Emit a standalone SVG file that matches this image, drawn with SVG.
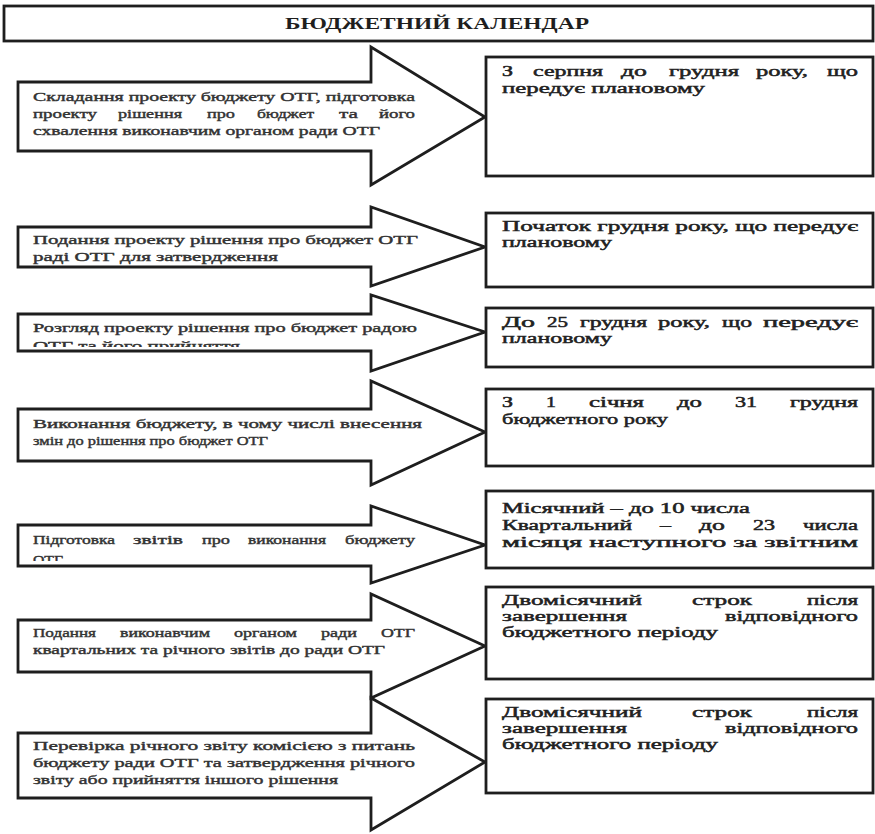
<svg xmlns="http://www.w3.org/2000/svg" width="875" height="834" viewBox="0 0 875 834">
<style>
.shape{fill:#fff;stroke:#1e1e1e;stroke-width:2.8;stroke-linejoin:miter}
.at{font-family:"Liberation Serif",serif;font-size:12.5px;font-weight:normal;fill:#333;stroke:#333;stroke-width:0.4}
.bt{font-family:"Liberation Serif",serif;font-size:15px;font-weight:normal;fill:#222;stroke:#222;stroke-width:0.5}
.tt{font-family:"Liberation Serif",serif;font-size:16px;font-weight:bold;fill:#1e1e1e}
</style>
<defs>
<clipPath id="clip3"><rect x="0" y="0" width="875" height="347"/></clipPath>
<clipPath id="clip5"><rect x="0" y="0" width="875" height="561"/></clipPath>
</defs>
<rect width="875" height="834" fill="#fff"/>

<g id="title">
<rect class="shape" x="4" y="6" width="869" height="35"/>
<text class="tt" x="285" y="29" textLength="304" lengthAdjust="spacingAndGlyphs">БЮДЖЕТНИЙ КАЛЕНДАР</text>
</g>

<g id="step1">
<polygon class="shape" points="18,82 371,82 371,47 485,117 371,185 371,151 18,151"/>
<text class="at" x="33" y="101" textLength="382" lengthAdjust="spacingAndGlyphs">Складання проекту бюджету ОТГ, підготовка</text>
<text class="at" x="33" y="118" textLength="64" lengthAdjust="spacingAndGlyphs">проекту</text>
<text class="at" x="118" y="118" textLength="64" lengthAdjust="spacingAndGlyphs">рішення</text>
<text class="at" x="207" y="118" textLength="28" lengthAdjust="spacingAndGlyphs">про</text>
<text class="at" x="257" y="118" textLength="57" lengthAdjust="spacingAndGlyphs">бюджет</text>
<text class="at" x="339" y="118" textLength="19" lengthAdjust="spacingAndGlyphs">та</text>
<text class="at" x="379" y="118" textLength="36" lengthAdjust="spacingAndGlyphs">його</text>
<text class="at" x="33" y="135" textLength="347" lengthAdjust="spacingAndGlyphs">схвалення виконавчим органом ради ОТГ</text>
</g>

<g id="period1">
<rect class="shape" x="486" y="57" width="387" height="119"/>
<text class="bt" x="502" y="76" textLength="11" lengthAdjust="spacingAndGlyphs">З</text>
<text class="bt" x="533" y="76" textLength="70" lengthAdjust="spacingAndGlyphs">серпня</text>
<text class="bt" x="621" y="76" textLength="26" lengthAdjust="spacingAndGlyphs">до</text>
<text class="bt" x="669" y="76" textLength="70" lengthAdjust="spacingAndGlyphs">грудня</text>
<text class="bt" x="756" y="76" textLength="52" lengthAdjust="spacingAndGlyphs">року,</text>
<text class="bt" x="827" y="76" textLength="31" lengthAdjust="spacingAndGlyphs">що</text>
<text class="bt" x="502" y="93" textLength="203" lengthAdjust="spacingAndGlyphs">передує плановому</text>
</g>

<g id="step2">
<polygon class="shape" points="18,227 371,227 371,207 485,247 371,286 371,267 18,267"/>
<text class="at" x="33" y="244" textLength="385" lengthAdjust="spacingAndGlyphs">Подання проекту рішення про бюджет ОТГ</text>
<text class="at" x="33" y="261" textLength="245" lengthAdjust="spacingAndGlyphs">раді ОТГ для затвердження</text>
</g>

<g id="period2">
<rect class="shape" x="486" y="213" width="387" height="74"/>
<text class="bt" x="502" y="231" textLength="356" lengthAdjust="spacingAndGlyphs">Початок грудня року, що передує</text>
<text class="bt" x="502" y="247" textLength="110" lengthAdjust="spacingAndGlyphs">плановому</text>
</g>

<g id="step3">
<polygon class="shape" points="18,314 371,314 371,295 485,332 371,371 371,351 18,351"/>
<text class="at" x="33" y="332" textLength="384" lengthAdjust="spacingAndGlyphs">Розгляд проекту рішення про бюджет радою</text>
<text class="at" x="33" y="349.5" textLength="207" lengthAdjust="spacingAndGlyphs" clip-path="url(#clip3)">ОТГ та його прийняття</text>
</g>

<g id="period3">
<rect class="shape" x="486" y="308" width="387" height="59"/>
<text class="bt" x="502" y="327" textLength="33" lengthAdjust="spacingAndGlyphs">До</text>
<text class="bt" x="547" y="327" textLength="21" lengthAdjust="spacingAndGlyphs">25</text>
<text class="bt" x="580" y="327" textLength="67" lengthAdjust="spacingAndGlyphs">грудня</text>
<text class="bt" x="658" y="327" textLength="52" lengthAdjust="spacingAndGlyphs">року,</text>
<text class="bt" x="722" y="327" textLength="30" lengthAdjust="spacingAndGlyphs">що</text>
<text class="bt" x="763" y="327" textLength="95" lengthAdjust="spacingAndGlyphs">передує</text>
<text class="bt" x="502" y="343" textLength="110" lengthAdjust="spacingAndGlyphs">плановому</text>
</g>

<g id="step4">
<polygon class="shape" points="18,409 371,409 371,381 485,432 371,485 371,461 18,461"/>
<text class="at" x="33" y="428" textLength="389" lengthAdjust="spacingAndGlyphs">Виконання бюджету, в чому числі внесення</text>
<text class="at" x="33" y="445" textLength="235" lengthAdjust="spacingAndGlyphs">змін до рішення про бюджет ОТГ</text>
</g>

<g id="period4">
<rect class="shape" x="486" y="389" width="387" height="77"/>
<text class="bt" x="502" y="407" textLength="11" lengthAdjust="spacingAndGlyphs">З</text>
<text class="bt" x="546" y="407" textLength="10" lengthAdjust="spacingAndGlyphs">1</text>
<text class="bt" x="589" y="407" textLength="55" lengthAdjust="spacingAndGlyphs">січня</text>
<text class="bt" x="677" y="407" textLength="25" lengthAdjust="spacingAndGlyphs">до</text>
<text class="bt" x="735" y="407" textLength="22" lengthAdjust="spacingAndGlyphs">31</text>
<text class="bt" x="790" y="407" textLength="68" lengthAdjust="spacingAndGlyphs">грудня</text>
<text class="bt" x="502" y="424" textLength="166" lengthAdjust="spacingAndGlyphs">бюджетного року</text>
</g>

<g id="step5">
<polygon class="shape" points="18,525 371,525 371,506 485,545 371,583 371,566 18,566"/>
<text class="at" x="33" y="544" textLength="82" lengthAdjust="spacingAndGlyphs">Підготовка</text>
<text class="at" x="133" y="544" textLength="50" lengthAdjust="spacingAndGlyphs">звітів</text>
<text class="at" x="202" y="544" textLength="28" lengthAdjust="spacingAndGlyphs">про</text>
<text class="at" x="248" y="544" textLength="78" lengthAdjust="spacingAndGlyphs">виконання</text>
<text class="at" x="345" y="544" textLength="70" lengthAdjust="spacingAndGlyphs">бюджету</text>
<text class="at" x="33" y="563.5" textLength="30" lengthAdjust="spacingAndGlyphs" clip-path="url(#clip5)">ОТГ</text>
</g>

<g id="period5">
<rect class="shape" x="486" y="491" width="387" height="77"/>
<text class="bt" x="502" y="513" textLength="248" lengthAdjust="spacingAndGlyphs">Місячний – до 10 числа</text>
<text class="bt" x="502" y="530" textLength="130" lengthAdjust="spacingAndGlyphs">Квартальний</text>
<text class="bt" x="660" y="530" textLength="11" lengthAdjust="spacingAndGlyphs">–</text>
<text class="bt" x="699" y="530" textLength="26" lengthAdjust="spacingAndGlyphs">до</text>
<text class="bt" x="753" y="530" textLength="22" lengthAdjust="spacingAndGlyphs">23</text>
<text class="bt" x="803" y="530" textLength="55" lengthAdjust="spacingAndGlyphs">числа</text>
<text class="bt" x="502" y="547" textLength="356" lengthAdjust="spacingAndGlyphs">місяця наступного за звітним</text>
</g>

<g id="step6">
<polygon class="shape" points="18,620 371,620 371,594 485,646 371,698 371,672 18,672"/>
<text class="at" x="33" y="637" textLength="63" lengthAdjust="spacingAndGlyphs">Подання</text>
<text class="at" x="120" y="637" textLength="90" lengthAdjust="spacingAndGlyphs">виконавчим</text>
<text class="at" x="234" y="637" textLength="63" lengthAdjust="spacingAndGlyphs">органом</text>
<text class="at" x="321" y="637" textLength="36" lengthAdjust="spacingAndGlyphs">ради</text>
<text class="at" x="381" y="637" textLength="34" lengthAdjust="spacingAndGlyphs">ОТГ</text>
<text class="at" x="33" y="654" textLength="352" lengthAdjust="spacingAndGlyphs">квартальних та річного звітів до ради ОТГ</text>
</g>

<g id="period6">
<rect class="shape" x="486" y="587" width="387" height="92"/>
<text class="bt" x="502" y="605" textLength="140" lengthAdjust="spacingAndGlyphs">Двомісячний</text>
<text class="bt" x="692" y="605" textLength="60" lengthAdjust="spacingAndGlyphs">строк</text>
<text class="bt" x="807" y="605" textLength="51" lengthAdjust="spacingAndGlyphs">після</text>
<text class="bt" x="502" y="621" textLength="125" lengthAdjust="spacingAndGlyphs">завершення</text>
<text class="bt" x="725" y="621" textLength="133" lengthAdjust="spacingAndGlyphs">відповідного</text>
<text class="bt" x="502" y="637" textLength="216" lengthAdjust="spacingAndGlyphs">бюджетного періоду</text>
</g>

<g id="step7">
<polygon class="shape" points="18,733 371,733 371,698 485,762 371,830 371,798 18,798"/>
<text class="at" x="33" y="750" textLength="382" lengthAdjust="spacingAndGlyphs">Перевірка річного звіту комісією з питань</text>
<text class="at" x="33" y="767" textLength="382" lengthAdjust="spacingAndGlyphs">бюджету ради ОТГ та затвердження річного</text>
<text class="at" x="33" y="784" textLength="305" lengthAdjust="spacingAndGlyphs">звіту або прийняття іншого рішення</text>
</g>

<g id="period7">
<rect class="shape" x="486" y="699" width="387" height="94"/>
<text class="bt" x="502" y="717" textLength="140" lengthAdjust="spacingAndGlyphs">Двомісячний</text>
<text class="bt" x="692" y="717" textLength="60" lengthAdjust="spacingAndGlyphs">строк</text>
<text class="bt" x="807" y="717" textLength="51" lengthAdjust="spacingAndGlyphs">після</text>
<text class="bt" x="502" y="733" textLength="125" lengthAdjust="spacingAndGlyphs">завершення</text>
<text class="bt" x="725" y="733" textLength="133" lengthAdjust="spacingAndGlyphs">відповідного</text>
<text class="bt" x="502" y="749" textLength="216" lengthAdjust="spacingAndGlyphs">бюджетного періоду</text>
</g>
</svg>
